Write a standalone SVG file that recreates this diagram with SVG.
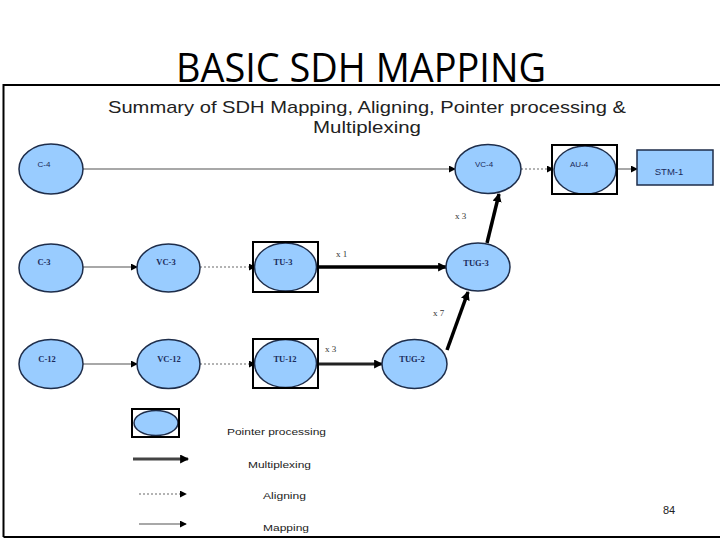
<svg xmlns="http://www.w3.org/2000/svg" width="720" height="540" viewBox="0 0 720 540">
<defs>
<style>
.nd{fill:#99ccff;stroke:#1e2d4a;stroke-width:1.5}
.box{fill:none;stroke:#000;stroke-width:2}
.ls{font-family:"Liberation Sans",Arial,sans-serif;font-size:8px;fill:#1a2a5a}
.lf{font-family:"Liberation Serif","Times New Roman",serif;font-size:8.5px;fill:#1a2a5a;font-weight:bold}
.map{stroke:#a8a8a8;stroke-width:2;fill:none}
.ali{stroke:#9a9a9a;stroke-width:1.5;stroke-dasharray:2,2;fill:none}
.mux{stroke:#000;stroke-width:3.5;fill:none}
.mux2{stroke:#222;stroke-width:2.8;fill:none}
.mul{font-family:"Liberation Serif","Times New Roman",serif;font-size:9px;fill:#333}
.leg{font-family:"Liberation Sans",Arial,sans-serif;font-size:9.5px;fill:#222}
</style>
<marker id="ah" viewBox="0 0 8 8" refX="7" refY="4" markerWidth="7" markerHeight="7" markerUnits="userSpaceOnUse" orient="auto"><path d="M0,0 L8,4 L0,8 z" fill="#000"/></marker>
<marker id="ahb" viewBox="0 0 8 8" refX="7" refY="4" markerWidth="9" markerHeight="9" markerUnits="userSpaceOnUse" orient="auto"><path d="M0,0 L8,4 L0,8 z" fill="#000"/></marker>
</defs>
<rect width="720" height="540" fill="#fff"/>
<text x="361" y="82" text-anchor="middle" font-family="'Open Sans','Liberation Sans',sans-serif" font-size="40" textLength="370" lengthAdjust="spacingAndGlyphs" fill="#000">BASIC SDH MAPPING</text>
<g id="frame" fill="none" stroke="#000" stroke-width="2">
<path d="M3.5,537 L3.5,85 L720,85"/>
<path d="M3.5,537 L720,537"/>
</g>
<g id="subtitle" font-family="'Liberation Sans',Arial,sans-serif" font-size="17" fill="#222" text-anchor="middle">
<text x="367" y="113" textLength="518" lengthAdjust="spacingAndGlyphs">Summary of SDH Mapping, Aligning, Pointer processing &amp;</text>
<text x="367" y="133" textLength="108" lengthAdjust="spacingAndGlyphs">Multiplexing</text>
</g>
<g id="connectors">
<line class="map" x1="83" y1="169" x2="455" y2="169" marker-end="url(#ah)"/>
<line class="ali" x1="521" y1="169" x2="553" y2="169" marker-end="url(#ah)"/>
<line class="map" x1="617" y1="169" x2="637" y2="169" marker-end="url(#ah)"/>
<line class="map" x1="83" y1="267" x2="137" y2="267" marker-end="url(#ah)"/>
<line class="ali" x1="200" y1="267" x2="255" y2="267" marker-end="url(#ah)"/>
<line class="mux" x1="318" y1="267" x2="446" y2="267" marker-end="url(#ahb)"/>
<line class="map" x1="83" y1="364" x2="137" y2="364" marker-end="url(#ah)"/>
<line class="ali" x1="200" y1="364" x2="255" y2="364" marker-end="url(#ah)"/>
<line class="mux2" x1="318" y1="364" x2="382" y2="364" marker-end="url(#ahb)"/>
<line class="mux" x1="447" y1="350" x2="468" y2="292" marker-end="url(#ahb)"/>
<line class="mux" x1="487" y1="243" x2="499" y2="194" marker-end="url(#ahb)"/>
<text class="mul" x="336" y="257">x 1</text>
<text class="mul" x="325" y="352">x 3</text>
<text class="mul" x="455" y="219">x 3</text>
<text class="mul" x="433" y="316">x 7</text>
</g>
<g id="C-4"><ellipse class="nd" cx="51" cy="169" rx="32" ry="25"/><text class="ls" x="44" y="167" text-anchor="middle">C-4</text></g>
<g id="VC-4"><ellipse class="nd" cx="488" cy="169" rx="33" ry="24.5"/><text class="ls" x="484" y="167" text-anchor="middle">VC-4</text></g>
<g id="AU-4"><ellipse class="nd" cx="585" cy="170" rx="31" ry="24"/><rect class="box" x="552" y="145" width="65" height="49"/><text class="ls" x="579" y="167" text-anchor="middle">AU-4</text></g>
<g id="STM-1"><rect x="637" y="150" width="76" height="35" fill="#99ccff" stroke="#1e2d4a" stroke-width="1.5"/><text x="669" y="175" text-anchor="middle" font-family="'Liberation Sans',Arial,sans-serif" font-size="9.5" fill="#1a2a5a">STM-1</text></g>
<g id="C-3"><ellipse class="nd" cx="51" cy="268" rx="32" ry="24"/><text class="lf" x="44" y="265" text-anchor="middle">C-3</text></g>
<g id="VC-3"><ellipse class="nd" cx="168.5" cy="268" rx="31.5" ry="24"/><text class="lf" x="166" y="265" text-anchor="middle">VC-3</text></g>
<g id="TU-3"><ellipse class="nd" cx="285.5" cy="267" rx="31" ry="24"/><rect class="box" x="253" y="242" width="65" height="50"/><text class="lf" x="283" y="265" text-anchor="middle">TU-3</text></g>
<g id="TUG-3"><ellipse class="nd" cx="478" cy="267" rx="32" ry="24"/><text class="lf" x="476" y="266" text-anchor="middle" font-weight="normal">TUG-3</text></g>
<g id="C-12"><ellipse class="nd" cx="51" cy="364" rx="32" ry="24.5"/><text class="lf" x="47" y="362" text-anchor="middle">C-12</text></g>
<g id="VC-12"><ellipse class="nd" cx="168.5" cy="364" rx="31.5" ry="24.5"/><text class="lf" x="169" y="362" text-anchor="middle">VC-12</text></g>
<g id="TU-12"><ellipse class="nd" cx="285.5" cy="363.5" rx="31" ry="24"/><rect class="box" x="253" y="339" width="65" height="49"/><text class="lf" x="285" y="362" text-anchor="middle">TU-12</text></g>
<g id="TUG-2"><ellipse class="nd" cx="414.5" cy="364" rx="32.5" ry="24.5"/><text class="lf" x="412" y="362" text-anchor="middle" font-weight="normal">TUG-2</text></g>
<g id="legend">
<ellipse class="nd" cx="156" cy="423" rx="22" ry="12.5"/>
<rect class="box" x="132" y="409" width="47" height="28"/>
<text class="leg" x="227" y="435" textLength="99" lengthAdjust="spacingAndGlyphs">Pointer processing</text>
<line x1="133" y1="459" x2="188" y2="459" stroke="#444" stroke-width="3" marker-end="url(#ahb)"/>
<text class="leg" x="248" y="468" textLength="63" lengthAdjust="spacingAndGlyphs">Multiplexing</text>
<line class="ali" x1="139" y1="494" x2="186" y2="494" stroke="#555" marker-end="url(#ah)"/>
<text class="leg" x="263" y="499" textLength="43" lengthAdjust="spacingAndGlyphs">Aligning</text>
<line class="map" x1="139" y1="524" x2="186" y2="524" marker-end="url(#ah)"/>
<text class="leg" x="263" y="531" textLength="46" lengthAdjust="spacingAndGlyphs">Mapping</text>
</g>
<text x="663" y="514" font-family="'Liberation Sans',Arial,sans-serif" font-size="11" fill="#222">84</text>
</svg>
